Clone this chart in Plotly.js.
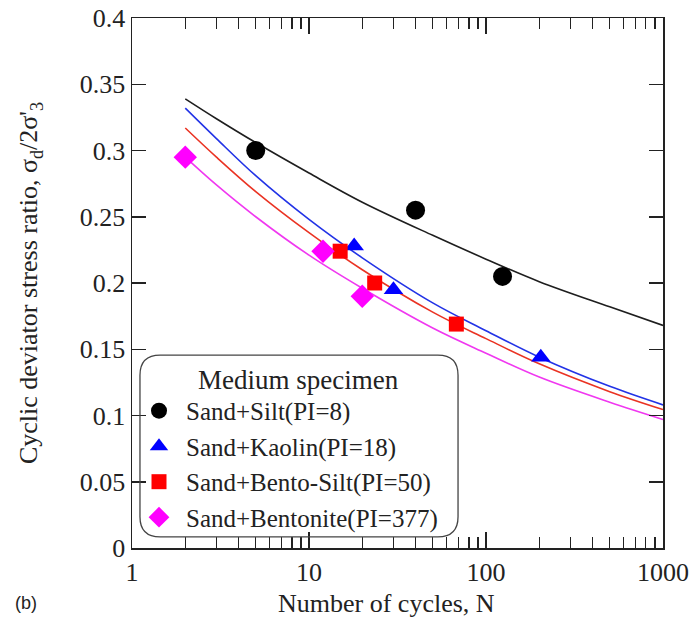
<!DOCTYPE html>
<html>
<head>
<meta charset="utf-8">
<script src="https://cdn.plot.ly/plotly-3.0.1.min.js"></script>
<style>html,body{margin:0;padding:0;background:#fff;}#chart{width:693px;height:630px;}</style>
</head>
<body>
<div id="chart"></div>
<script>
// Measured points
const silt_N = [5, 40, 124];
const silt_R = [0.300, 0.255, 0.205];
const kaolin_N = [18, 30, 204];
const kaolin_R = [0.228, 0.195, 0.144];
const bentoSilt_N = [15, 23.5, 68];
const bentoSilt_R = [0.224, 0.200, 0.169];
const bentonite_N = [2, 12, 20];
const bentonite_R = [0.295, 0.224, 0.190];

// Fitted curves
const curve_N = [2, 3, 5, 10, 20, 50, 100, 200, 500, 1000];
const silt_fit = [0.339, 0.324, 0.306, 0.283, 0.261, 0.236, 0.218, 0.201, 0.182, 0.168];
const kaolin_fit = [0.332, 0.309, 0.281, 0.248, 0.219, 0.185, 0.164, 0.144, 0.122, 0.108];
const bentoSilt_fit = [0.317, 0.295, 0.269, 0.238, 0.210, 0.178, 0.158, 0.139, 0.118, 0.1045];
const bentonite_fit = [0.295, 0.274, 0.250, 0.221, 0.196, 0.166, 0.147, 0.129, 0.110, 0.097];

const names = ['Sand+Silt(PI=8)', 'Sand+Kaolin(PI=18)', 'Sand+Bento-Silt(PI=50)', 'Sand+Bentonite(PI=377)'];
const legendTitle = 'Medium specimen';
const xTitle = 'Number of cycles, N';
const yTitle = "Cyclic deviator stress ratio, σ<sub>d</sub>/2σ'<sub>3</sub>";
const xTickVals = [1, 10, 100, 1000];
const xTickText = ['1', '10', '100', '1000'];
const xMinorVals = [2, 3, 4, 5, 6, 7, 8, 9, 20, 30, 40, 50, 60, 70, 80, 90, 200, 300, 400, 500, 600, 700, 800, 900];
const yTickVals = [0, 0.05, 0.1, 0.15, 0.2, 0.25, 0.3, 0.35, 0.4];
const yTickText = ['0', '0.05', '0.1', '0.15', '0.2', '0.25', '0.3', '0.35', '0.4'];

const lineColors = ['#1e1e1e', '#2233e6', '#ea3323', '#f038f0'];
const markColors = ['#000000', '#0000ff', '#ff0000', '#ff00ff'];
const symbols = ['circle', 'triangle-up', 'square', 'diamond'];
const sizes = [19, 17, 15, 18];

const fits = [silt_fit, kaolin_fit, bentoSilt_fit, bentonite_fit];
const ptsN = [silt_N, kaolin_N, bentoSilt_N, bentonite_N];
const ptsR = [silt_R, kaolin_R, bentoSilt_R, bentonite_R];

const data = [];
for (let i = 0; i < 4; i++) {
  data.push({
    x: curve_N, y: fits[i], mode: 'lines', type: 'scatter',
    line: {color: lineColors[i], width: 1.6, shape: 'spline'},
    showlegend: false, hoverinfo: 'skip'
  });
}
for (let i = 0; i < 4; i++) {
  data.push({
    x: ptsN[i], y: ptsR[i], mode: 'markers', type: 'scatter', name: names[i],
    marker: {color: markColors[i], symbol: symbols[i], size: sizes[i], line: {width: 0}}
  });
}
// invisible trace on the overlay axis that carries the minor ticks
data.push({x: [1, 1000], y: [0, 0], xaxis: 'x2', mode: 'markers', marker: {opacity: 0}, showlegend: false, hoverinfo: 'skip'});

const serif = 'Liberation Serif';
const layout = {
  width: 693, height: 630,
  margin: {l: 132, r: 30, t: 18, b: 82},
  font: {family: serif, size: 26, color: '#222'},
  xaxis: {
    type: 'log', range: [0, 3],
    tickmode: 'array', tickvals: xTickVals, ticktext: xTickText,
    ticks: 'inside', ticklen: 16, tickwidth: 1.5, tickcolor: '#222',
    showline: true, linewidth: 1.5, linecolor: '#222', mirror: 'ticks',
    showgrid: false, zeroline: false
  },
  xaxis2: {
    type: 'log', range: [0, 3], overlaying: 'x', side: 'bottom',
    tickmode: 'array', tickvals: xMinorVals, showticklabels: false,
    ticks: 'inside', ticklen: 11, tickwidth: 1.3, tickcolor: '#222',
    showline: false, mirror: 'ticks', showgrid: false, zeroline: false
  },
  yaxis: {
    range: [0, 0.4],
    tickmode: 'array', tickvals: yTickVals, ticktext: yTickText,
    ticks: 'inside', ticklen: 14, tickwidth: 1.5, tickcolor: '#222',
    showline: true, linewidth: 1.5, linecolor: '#222', mirror: 'ticks',
    showgrid: false, zeroline: false
  },
  legend: {
    x: 0.0, y: 0.302, xanchor: 'left', yanchor: 'top',
    bgcolor: 'rgba(0,0,0,0)', borderwidth: 0,
    font: {family: serif, size: 25, color: '#222'},
    itemwidth: 44
  },
  shapes: [{
    type: 'path', xref: 'paper', yref: 'paper',
    path: 'M 0.053 0.364 L 0.576 0.364 Q 0.614 0.364 0.614 0.326 L 0.614 0.059 Q 0.614 0.021 0.576 0.021 L 0.053 0.021 Q 0.015 0.021 0.015 0.059 L 0.015 0.326 Q 0.015 0.364 0.053 0.364 Z',
    line: {color: '#444', width: 1.3}, fillcolor: 'rgba(0,0,0,0)', layer: 'above'
  }],
  annotations: [
    {text: legendTitle, xref: 'paper', yref: 'paper', x: 0.3145, y: 0.317, xanchor: 'center', yanchor: 'middle',
     showarrow: false, font: {family: serif, size: 27, color: '#222'}},
    {text: xTitle, xref: 'paper', yref: 'paper', x: 0.48, y: -0.104, xanchor: 'center', yanchor: 'middle',
     showarrow: false, font: {family: serif, size: 26, color: '#222'}},
    {text: yTitle, xref: 'paper', yref: 'paper', x: -0.192, y: 0.5, xanchor: 'center', yanchor: 'middle',
     textangle: -90, showarrow: false, font: {family: serif, size: 26, color: '#222'}},
    {text: '(b)', xref: 'paper', yref: 'paper', x: -0.225, y: -0.104, xanchor: 'left', yanchor: 'middle',
     showarrow: false, font: {family: 'Liberation Sans', size: 18, color: '#222'}}
  ]
};

Plotly.newPlot('chart', data, layout, {displayModeBar: false, staticPlot: true});
</script>
</body>
</html>
